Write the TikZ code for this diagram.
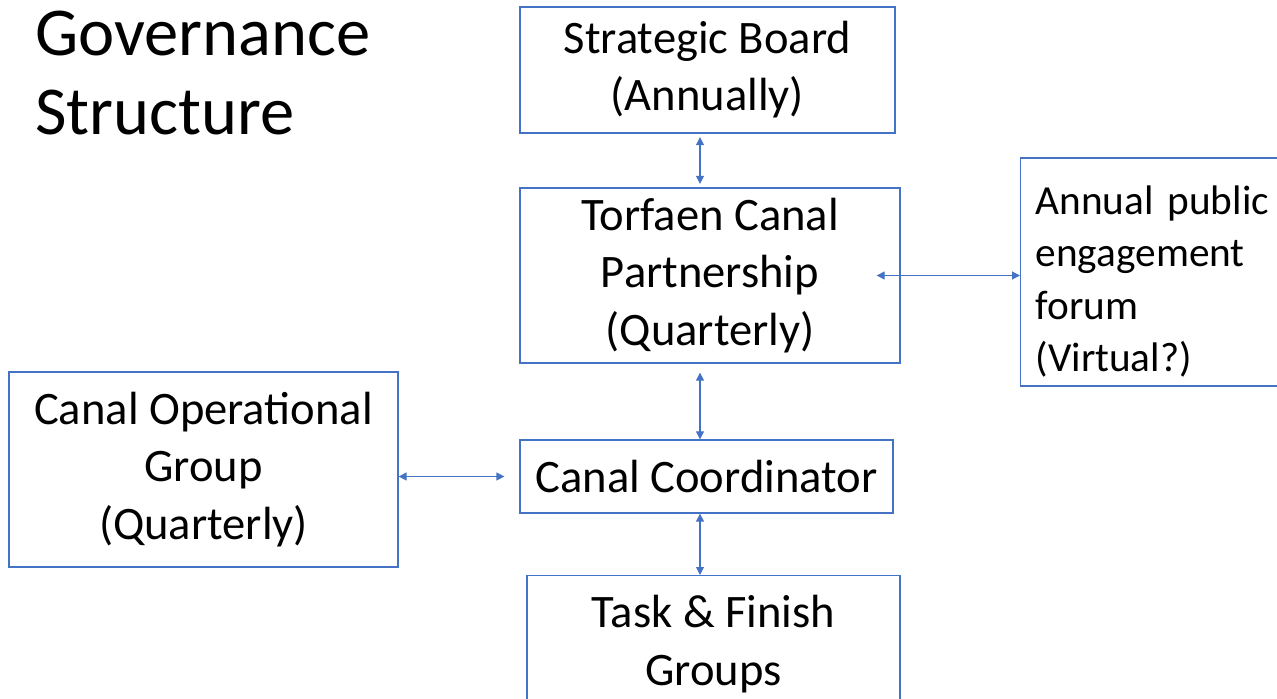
\documentclass[tikz,border=0pt]{standalone}
\usepackage{fontspec}
\setmainfont{Carlito}
\usetikzlibrary{arrows.meta}
\definecolor{boxblue}{RGB}{68,114,196}

\begin{document}
\begin{tikzpicture}
    [x=0.02cm,y=-0.02cm,
     box/.style={draw=boxblue,line width=0.75pt,align=center,
         font=\fontsize{26.5}{32.5}\selectfont},
     lowered/.style={execute at begin node=\rule{0pt}{#1}},
     link/.style={draw=boxblue,line width=0.6pt,
         {Triangle[length=4.5pt,width=4.5pt]}-{Triangle[length=4.5pt,width=4.5pt]}}]
\useasboundingbox (0,0) rectangle (1277,699);
\path
    (35,11) node [anchor=north west,inner sep=0pt,align=left,
        font=\fontsize{39}{45}\selectfont] (title) {Governance\\Structure}
    (707.5,70) node [box,lowered=22pt,minimum width=7.5cm,minimum height=2.52cm] (board)
        {Strategic Board\\(Annually)}
    (710,275.5) node [box,lowered=25pt,minimum width=7.6cm,minimum height=3.5cm] (tcp)
        {Torfaen Canal\\Partnership\\(Quarterly)}
    (1020,272) node [box,lowered=27pt,anchor=west,align=left,text width=5.4cm,
        inner xsep=0.3cm,minimum height=4.56cm,
        font=\fontsize{23.5}{29.8}\selectfont] (forum)
        {Annual public\\engagement\\forum\\(Virtual?)}
    (203.5,469.5) node [box,lowered=25pt,minimum width=7.78cm,minimum height=3.9cm] (ops)
        {Canal Operational\\Group\\(Quarterly)}
    (706.5,476.5) node [box,minimum width=7.46cm,minimum height=1.46cm] (coord)
        {Canal Coordinator}
    (713.5,575) node [box,anchor=north,minimum width=7.46cm,inner ysep=0.4cm] (task)
        {Task \& Finish\\Groups}
    (700,0) coordinate (axis);
% links between the boxes
\draw [link,shorten <=2pt,shorten >=2pt] (board.south -| axis) -- (tcp.north -| axis);
\draw [link,shorten <=0.18cm] (tcp.south -| axis) -- (coord.north -| axis);
\draw [link] (coord.south -| axis) -- (task.north -| axis);
\draw [link] ([xshift=-0.48cm]tcp.east) -- (tcp.east -| forum.west);
\draw [link,shorten >=0.3cm] (ops.east |- coord.west) -- (coord.west);
\end{tikzpicture}
\end{document}
